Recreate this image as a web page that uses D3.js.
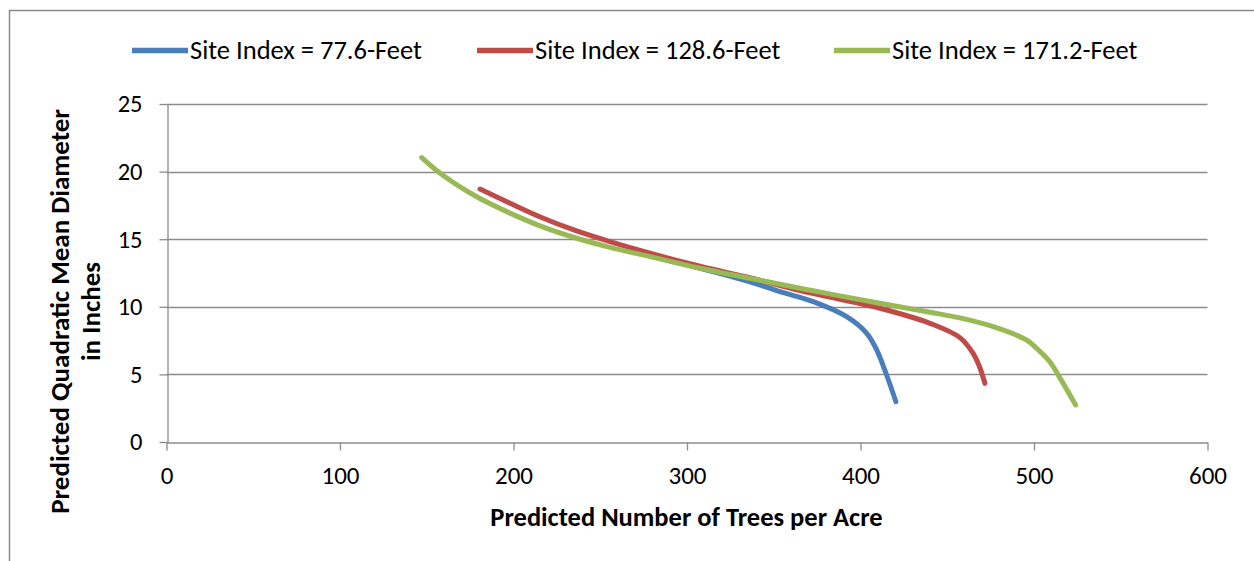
<!DOCTYPE html>
<html><head><meta charset="utf-8">
<script src="https://cdn.jsdelivr.net/npm/d3@7"></script>
<style>body{margin:0;background:#fff}svg{display:block}</style>
</head><body>
<svg id="c" width="1254" height="561"></svg>
<script>
const seriesNames = ["Site Index = 77.6-Feet", "Site Index = 128.6-Feet", "Site Index = 171.2-Feet"];
const seriesColors = ["#4A7EBB", "#BE4B48", "#98B954"];
const blueX = [290, 307.5, 336.3, 353.6, 372.8, 392, 403.6, 409.4, 415.2, 420.4];
const blueY = [13.4, 12.85, 11.85, 11.12, 10.38, 9.27, 8.04, 6.8, 4.9, 2.98];
const redX = [180.7, 198, 217.2, 236.4, 255.6, 278.7, 307.5, 336.3, 365.1, 411.2, 440, 457.3, 464.9, 468.5, 471.7];
const redY = [18.71, 17.66, 16.55, 15.61, 14.82, 13.96, 13.0, 12.15, 11.2, 9.89, 8.78, 7.72, 6.56, 5.6, 4.34];
const greenX = [147.1, 159.5, 178.8, 198, 217.2, 236.4, 255.6, 278.7, 307.5, 336.3, 365.1, 411.2, 440, 457.3, 476.5, 495.8, 503, 509, 514, 524];
const greenY = [21.04, 19.71, 18.14, 16.93, 15.89, 15.07, 14.4, 13.71, 12.85, 12.11, 11.37, 10.26, 9.6, 9.18, 8.53, 7.54, 6.75, 5.95, 4.95, 2.74];
const xTicks = [0, 100, 200, 300, 400, 500, 600];
const yTicks = [0, 5, 10, 15, 20, 25];
const xTitle = "Predicted Number of Trees per Acre";
const yTitleLines = ["Predicted Quadratic Mean Diameter", "in Inches"];

const series = [
  {name: seriesNames[0], color: seriesColors[0], pts: blueX.map((x,i)=>[x, blueY[i]])},
  {name: seriesNames[1], color: seriesColors[1], pts: redX.map((x,i)=>[x, redY[i]])},
  {name: seriesNames[2], color: seriesColors[2], pts: greenX.map((x,i)=>[x, greenY[i]])}
];

const svg = d3.select("#c");
const font = "Carlito, Lato, 'Open Sans', sans-serif";
svg.append("rect").attr("x",9.5).attr("y",10.5).attr("width",1300).attr("height",600)
  .attr("fill","none").attr("stroke","#8a8a8a").attr("stroke-width",1.5);

const x = d3.scaleLinear().domain([0,600]).range([166.5,1207.5]);
const y = d3.scaleLinear().domain([0,25]).range([442,104]);
const grid = "#8c8c8c";

// gridlines
svg.append("g").selectAll("line").data(yTicks.filter(d=>d>0)).join("line")
  .attr("x1",x(0)).attr("x2",x(600)).attr("y1",d=>Math.round(y(d))+0.5).attr("y2",d=>Math.round(y(d))+0.5)
  .attr("stroke",grid).attr("stroke-width",1.3);

// x axis
const xa = svg.append("g").attr("transform",`translate(0,${Math.round(y(0))+0.5})`)
  .call(d3.axisBottom(x).tickValues(xTicks).tickSize(8).tickSizeOuter(0).tickPadding(16));
xa.select(".domain").attr("stroke",grid).attr("stroke-width",1.3);
xa.selectAll(".tick line").attr("stroke",grid).attr("stroke-width",1.3);
xa.selectAll("text").attr("font-family",font).attr("font-size",25).attr("fill","#000");

// y axis
const ya = svg.append("g").attr("transform",`translate(${Math.round(x(0))+0.5},0)`)
  .call(d3.axisLeft(y).tickValues(yTicks).tickSize(8).tickSizeOuter(0).tickPadding(17));
ya.select(".domain").attr("stroke",grid).attr("stroke-width",1.3);
ya.selectAll(".tick line").attr("stroke",grid).attr("stroke-width",1.3);
ya.selectAll("text").attr("font-family",font).attr("font-size",24.5).attr("fill","#000");

// lines
const line = d3.line().x(d=>x(d[0])).y(d=>y(d[1])).curve(d3.curveCatmullRom.alpha(0.5));
svg.append("g").selectAll("path").data(series).join("path")
  .attr("d",d=>line(d.pts)).attr("fill","none").attr("stroke",d=>d.color)
  .attr("stroke-width",5).attr("stroke-linecap","round").attr("stroke-linejoin","round");

// titles
svg.append("text").attr("x",686.5).attr("y",526).attr("text-anchor","middle")
  .attr("font-family",font).attr("font-weight","bold").attr("font-size",26.5).text(xTitle);
const yt = svg.append("text").attr("transform","translate(0,311.5) rotate(-90)")
  .attr("text-anchor","middle").attr("font-family",font).attr("font-weight","bold").attr("font-size",27);
yt.append("tspan").attr("x",0).attr("y",69).text(yTitleLines[0]);
yt.append("tspan").attr("x",0).attr("y",100).text(yTitleLines[1]);

// legend
const legX = [132, 477, 834];
const lg = svg.append("g").selectAll("g").data(series).join("g")
  .attr("transform",(d,i)=>`translate(${legX[i]},50.5)`);
lg.append("line").attr("x1",0).attr("x2",56).attr("y1",0).attr("y2",0)
  .attr("stroke",d=>d.color).attr("stroke-width",5.5);
lg.append("text").attr("x",58).attr("y",8.5).attr("font-family",font).attr("font-size",26.5)
  .text(d=>d.name);
</script>
</body></html>
